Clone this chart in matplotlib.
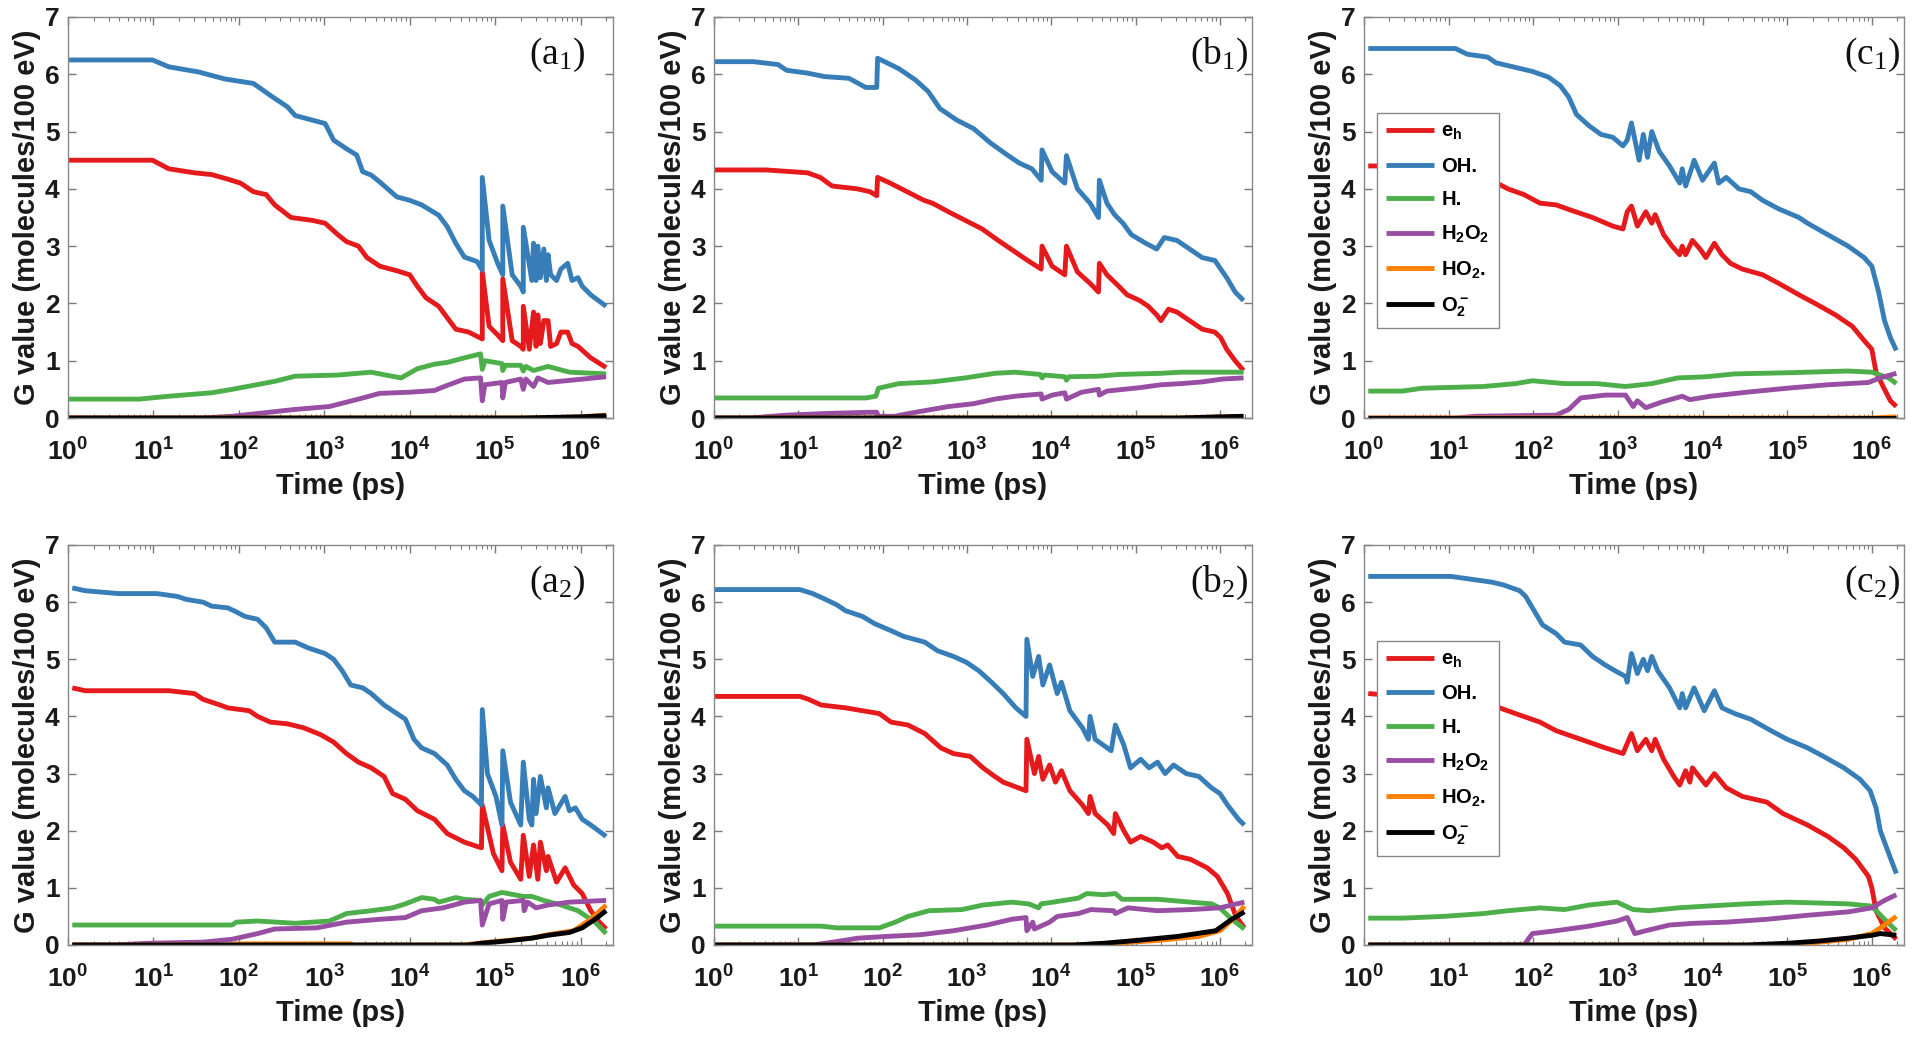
import numpy as np
import matplotlib
matplotlib.use('Agg')
import matplotlib.pyplot as plt
from matplotlib.ticker import LogLocator, NullFormatter

plt.rcParams['font.family'] = ['Liberation Sans', 'DejaVu Sans']
plt.rcParams['font.weight'] = 'bold'
plt.rcParams['axes.labelweight'] = 'bold'
plt.rcParams['mathtext.default'] = 'regular'

# points are (log10 of time in ps, G value in molecules/100 eV)
# ---- panel a1
a1_eh = [(0, 4.5), (0.99, 4.5), (1.18, 4.35), (1.48, 4.28), (1.68, 4.25), (1.87, 4.17), (2.02, 4.1), (2.17, 3.95),
         (2.32, 3.9), (2.42, 3.72), (2.61, 3.5), (2.86, 3.45), (3.01, 3.4), (3.16, 3.2), (3.26, 3.08), (3.40, 3.0),
         (3.50, 2.8), (3.65, 2.65), (3.85, 2.57), (4.0, 2.5), (4.09, 2.3), (4.19, 2.1), (4.34, 1.95), (4.44, 1.75),
         (4.54, 1.55), (4.69, 1.5), (4.85, 1.38), (4.85, 2.55), (4.93, 1.6), (5.03, 1.45), (5.09, 1.35), (5.09, 2.43),
         (5.20, 1.35), (5.30, 1.25), (5.33, 1.2), (5.33, 1.95), (5.40, 1.2), (5.45, 1.85), (5.48, 1.25), (5.50, 1.8),
         (5.53, 1.3), (5.57, 1.7), (5.62, 1.7), (5.65, 1.25), (5.72, 1.3), (5.77, 1.5), (5.85, 1.5), (5.90, 1.3),
         (5.97, 1.25), (6.12, 1.05), (6.30, 0.88)]
a1_oh = [(0, 6.25), (0.99, 6.25), (1.18, 6.13), (1.53, 6.04), (1.83, 5.92), (2.17, 5.84), (2.37, 5.63), (2.57, 5.43),
         (2.66, 5.28), (2.86, 5.2), (3.01, 5.14), (3.11, 4.85), (3.26, 4.70), (3.38, 4.59), (3.45, 4.30), (3.55, 4.24),
         (3.65, 4.12), (3.85, 3.86), (4.00, 3.80), (4.14, 3.72), (4.34, 3.54), (4.44, 3.34), (4.54, 3.05), (4.64, 2.81),
         (4.79, 2.73), (4.85, 2.58), (4.85, 4.2), (4.93, 3.1), (5.03, 2.7), (5.09, 2.5), (5.09, 3.7), (5.20, 2.5),
         (5.30, 2.3), (5.33, 2.2), (5.33, 3.33), (5.43, 2.4), (5.45, 3.05), (5.48, 2.4), (5.50, 3.0), (5.53, 2.45),
         (5.57, 2.95), (5.60, 2.4), (5.62, 2.85), (5.65, 2.5), (5.72, 2.4), (5.77, 2.6), (5.85, 2.7), (5.90, 2.4),
         (5.97, 2.45), (6.02, 2.3), (6.12, 2.15), (6.30, 1.95)]
a1_h = [(0, 0.33), (0.84, 0.33), (1.18, 0.38), (1.68, 0.44), (1.92, 0.5), (2.17, 0.57), (2.42, 0.64), (2.66, 0.73),
        (3.16, 0.75), (3.55, 0.8), (3.65, 0.77), (3.90, 0.7), (4.09, 0.86), (4.29, 0.94), (4.44, 0.97), (4.64, 1.05),
        (4.83, 1.12), (4.85, 0.85), (4.88, 1.0), (5.08, 0.95), (5.09, 0.83), (5.12, 0.92), (5.30, 0.92), (5.33, 0.82),
        (5.36, 0.9), (5.45, 0.83), (5.62, 0.9), (5.87, 0.8), (6.30, 0.77)]
a1_h2o2 = [(0, 0), (1.58, 0), (1.92, 0.03), (2.17, 0.07), (2.66, 0.15), (3.06, 0.2), (3.40, 0.33), (3.65, 0.43),
           (4.0, 0.45), (4.29, 0.48), (4.44, 0.57), (4.64, 0.68), (4.83, 0.7), (4.85, 0.3), (4.88, 0.58), (5.08, 0.62),
           (5.09, 0.35), (5.12, 0.62), (5.30, 0.68), (5.33, 0.5), (5.36, 0.68), (5.45, 0.55), (5.50, 0.7), (5.62, 0.62),
           (6.30, 0.72)]
a1_ho2 = [(0, 0), (5.5, 0), (6.0, 0.02), (6.30, 0.05)]
a1_o2 = [(0, 0), (5.3, 0), (6.0, 0.02), (6.30, 0.04)]

# ---- panel b1
b1_eh = [(0, 4.33), (0.62, 4.33), (1.11, 4.28), (1.26, 4.2), (1.40, 4.05), (1.70, 4.0), (1.85, 3.95), (1.93, 3.88),
         (1.94, 4.2), (2.09, 4.1), (2.29, 3.95), (2.49, 3.8), (2.59, 3.75), (2.78, 3.6), (2.98, 3.45), (3.18, 3.3),
         (3.37, 3.1), (3.57, 2.9), (3.72, 2.75), (3.88, 2.6), (3.89, 3.0), (4.01, 2.65), (4.16, 2.5), (4.18, 3.0),
         (4.31, 2.55), (4.46, 2.35), (4.56, 2.2), (4.57, 2.7), (4.66, 2.5), (4.80, 2.3), (4.90, 2.15), (5.05, 2.05),
         (5.15, 1.95), (5.25, 1.8), (5.30, 1.7), (5.39, 1.9), (5.49, 1.85), (5.64, 1.7), (5.79, 1.55), (5.94, 1.5),
         (6.01, 1.4), (6.08, 1.2), (6.18, 1.0), (6.28, 0.83)]
b1_oh = [(0, 6.22), (0.47, 6.22), (0.76, 6.17), (0.86, 6.07), (1.11, 6.02), (1.31, 5.96), (1.60, 5.93), (1.70, 5.85),
         (1.80, 5.77), (1.93, 5.77), (1.94, 6.28), (2.19, 6.1), (2.39, 5.9), (2.54, 5.7), (2.68, 5.4), (2.88, 5.2),
         (3.08, 5.05), (3.28, 4.8), (3.47, 4.6), (3.62, 4.45), (3.77, 4.35), (3.88, 4.15), (3.89, 4.68), (4.01, 4.3),
         (4.16, 4.1), (4.18, 4.58), (4.31, 4.0), (4.46, 3.75), (4.56, 3.5), (4.57, 4.15), (4.66, 3.75), (4.75, 3.55),
         (4.85, 3.4), (4.95, 3.2), (5.12, 3.05), (5.25, 2.95), (5.34, 3.15), (5.49, 3.1), (5.64, 2.95), (5.79, 2.8),
         (5.94, 2.75), (6.01, 2.6), (6.08, 2.45), (6.18, 2.2), (6.28, 2.05)]
b1_h = [(0, 0.35), (1.80, 0.35), (1.92, 0.38), (1.95, 0.52), (2.19, 0.6), (2.59, 0.63), (2.98, 0.7), (3.33, 0.78),
        (3.57, 0.8), (3.87, 0.76), (3.89, 0.7), (3.92, 0.75), (4.16, 0.72), (4.18, 0.66), (4.21, 0.72), (4.56, 0.73),
        (4.80, 0.76), (5.30, 0.78), (5.54, 0.8), (6.28, 0.8)]
b1_h2o2 = [(0, 0), (0.42, 0), (0.86, 0.05), (1.35, 0.08), (1.85, 0.1), (1.93, 0.1), (1.95, 0.03), (2.14, 0.03),
           (2.39, 0.1), (2.78, 0.2), (3.08, 0.25), (3.33, 0.33), (3.57, 0.38), (3.88, 0.42), (3.89, 0.33), (4.01, 0.4),
           (4.16, 0.44), (4.18, 0.33), (4.36, 0.45), (4.56, 0.5), (4.57, 0.4), (4.66, 0.47), (5.05, 0.53), (5.30, 0.58),
           (5.54, 0.6), (5.79, 0.63), (6.03, 0.68), (6.28, 0.7)]
b1_ho2 = [(0, 0), (5.5, 0), (6.28, 0.03)]
b1_o2 = [(0, 0), (5.5, 0), (6.28, 0.03)]

# ---- panel c1
c1_eh = [(0.05, 4.4), (0.5, 4.4), (1.0, 4.3), (1.51, 4.15), (1.70, 4.0), (1.89, 3.9), (2.08, 3.75), (2.27, 3.72),
         (2.46, 3.62), (2.70, 3.5), (2.94, 3.35), (3.06, 3.3), (3.11, 3.6), (3.16, 3.7), (3.23, 3.35), (3.33, 3.6),
         (3.40, 3.4), (3.44, 3.55), (3.54, 3.2), (3.64, 3.0), (3.73, 2.85), (3.76, 3.0), (3.80, 2.85), (3.88, 3.1),
         (3.97, 2.95), (4.04, 2.8), (4.14, 3.05), (4.23, 2.85), (4.33, 2.7), (4.47, 2.6), (4.71, 2.5), (4.90, 2.35),
         (5.14, 2.15), (5.33, 2.0), (5.57, 1.8), (5.77, 1.6), (5.91, 1.35), (6.00, 1.2), (6.05, 0.8), (6.15, 0.5),
         (6.22, 0.3), (6.29, 0.2)]
c1_oh = [(0.05, 6.45), (1.08, 6.45), (1.22, 6.35), (1.46, 6.3), (1.56, 6.2), (1.79, 6.12), (1.99, 6.05), (2.18, 5.95),
         (2.32, 5.8), (2.42, 5.6), (2.51, 5.3), (2.66, 5.1), (2.80, 4.95), (2.94, 4.9), (3.06, 4.75), (3.11, 4.85),
         (3.16, 5.15), (3.25, 4.5), (3.30, 4.95), (3.35, 4.55), (3.40, 5.0), (3.49, 4.65), (3.61, 4.4), (3.73, 4.1),
         (3.76, 4.35), (3.80, 4.05), (3.88, 4.4), (3.90, 4.5), (4.00, 4.15), (4.14, 4.45), (4.19, 4.1), (4.28, 4.2),
         (4.43, 4.0), (4.57, 3.95), (4.71, 3.8), (4.90, 3.65), (5.14, 3.5), (5.24, 3.4), (5.48, 3.2), (5.72, 3.0),
         (5.91, 2.8), (6.00, 2.65), (6.08, 2.2), (6.15, 1.7), (6.22, 1.4), (6.29, 1.18)]
c1_h = [(0.05, 0.47), (0.45, 0.47), (0.69, 0.52), (1.41, 0.55), (1.79, 0.6), (1.99, 0.65), (2.37, 0.6), (2.75, 0.6),
        (3.09, 0.55), (3.40, 0.6), (3.71, 0.7), (4.04, 0.72), (4.38, 0.77), (5.00, 0.79), (5.72, 0.82), (6.00, 0.8),
        (6.20, 0.7), (6.29, 0.6)]
c1_h2o2 = [(0.05, 0), (1.08, 0), (1.32, 0.03), (2.27, 0.05), (2.42, 0.15), (2.56, 0.35), (2.85, 0.4), (3.09, 0.4),
           (3.18, 0.2), (3.23, 0.3), (3.33, 0.18), (3.52, 0.28), (3.76, 0.38), (3.85, 0.32), (4.09, 0.38), (4.52, 0.45),
           (5.00, 0.52), (5.48, 0.58), (5.96, 0.62), (6.10, 0.7), (6.29, 0.78)]
c1_ho2 = [(0.05, 0), (6.0, 0), (6.29, 0.02)]
c1_o2 = [(0.05, 0), (6.29, 0)]

# ---- panel a2
a2_eh = [(0.05, 4.5), (0.20, 4.45), (1.18, 4.45), (1.48, 4.4), (1.58, 4.3), (1.78, 4.2), (1.87, 4.15), (2.12, 4.1),
         (2.22, 4.0), (2.37, 3.9), (2.57, 3.87), (2.76, 3.8), (2.96, 3.68), (3.11, 3.55), (3.26, 3.35), (3.40, 3.2),
         (3.55, 3.1), (3.70, 2.95), (3.80, 2.65), (3.95, 2.55), (4.09, 2.35), (4.29, 2.2), (4.44, 1.95), (4.64, 1.8),
         (4.84, 1.7), (4.85, 2.45), (4.98, 1.6), (5.08, 1.3), (5.09, 2.1), (5.18, 1.45), (5.30, 1.15), (5.33, 1.92),
         (5.40, 1.2), (5.45, 1.75), (5.50, 1.15), (5.53, 1.8), (5.60, 1.3), (5.62, 1.55), (5.72, 1.1), (5.82, 1.35),
         (5.92, 1.05), (6.02, 0.9), (6.12, 0.6), (6.22, 0.4), (6.30, 0.28)]
a2_oh = [(0.05, 6.25), (0.20, 6.2), (0.59, 6.15), (1.04, 6.15), (1.28, 6.1), (1.38, 6.05), (1.58, 6.0), (1.68, 5.93),
         (1.87, 5.9), (1.97, 5.83), (2.07, 5.75), (2.22, 5.7), (2.32, 5.55), (2.42, 5.3), (2.66, 5.3), (2.81, 5.2),
         (3.01, 5.1), (3.11, 5.0), (3.21, 4.8), (3.31, 4.55), (3.45, 4.5), (3.55, 4.4), (3.70, 4.2), (3.85, 4.05),
         (3.95, 3.95), (4.05, 3.6), (4.14, 3.45), (4.29, 3.35), (4.44, 3.15), (4.54, 2.9), (4.64, 2.7), (4.74, 2.6),
         (4.84, 2.45), (4.85, 4.12), (4.91, 3.0), (5.01, 2.6), (5.08, 2.1), (5.09, 3.4), (5.18, 2.5), (5.30, 2.1),
         (5.33, 3.2), (5.40, 2.2), (5.43, 2.1), (5.45, 2.9), (5.48, 2.3), (5.53, 2.95), (5.60, 2.4), (5.62, 2.75),
         (5.70, 2.3), (5.82, 2.6), (5.87, 2.35), (5.94, 2.4), (6.02, 2.2), (6.12, 2.1), (6.30, 1.9)]
a2_h = [(0.05, 0.35), (1.92, 0.35), (1.97, 0.4), (2.22, 0.42), (2.66, 0.38), (3.06, 0.42), (3.26, 0.55), (3.55, 0.6),
        (3.80, 0.65), (3.95, 0.72), (4.14, 0.83), (4.29, 0.8), (4.34, 0.75), (4.54, 0.83), (4.64, 0.8), (4.83, 0.78),
        (4.85, 0.7), (4.93, 0.85), (5.08, 0.92), (5.33, 0.85), (5.43, 0.85), (5.57, 0.78), (5.77, 0.7), (5.97, 0.6),
        (6.17, 0.4), (6.30, 0.2)]
a2_h2o2 = [(0.05, 0), (0.54, 0), (0.94, 0.03), (1.58, 0.05), (1.92, 0.1), (2.22, 0.2), (2.42, 0.28), (2.91, 0.3),
           (3.26, 0.4), (3.65, 0.45), (3.95, 0.48), (4.14, 0.6), (4.39, 0.65), (4.64, 0.75), (4.83, 0.78), (4.85, 0.35),
           (4.93, 0.72), (5.08, 0.78), (5.09, 0.45), (5.13, 0.75), (5.33, 0.78), (5.34, 0.6), (5.38, 0.75), (5.48, 0.65),
           (5.62, 0.7), (5.87, 0.75), (6.30, 0.78)]
a2_ho2 = [(0.05, 0), (1.90, 0), (1.97, 0.02), (3.31, 0.02), (3.35, 0), (4.64, 0), (4.93, 0.05), (5.43, 0.12),
          (5.62, 0.18), (5.92, 0.25), (6.12, 0.45), (6.30, 0.7)]
a2_o2 = [(0.05, 0), (4.69, 0), (4.83, 0.03), (5.13, 0.07), (5.43, 0.12), (5.62, 0.17), (5.87, 0.22), (6.02, 0.3),
         (6.17, 0.45), (6.30, 0.6)]

# ---- panel b2
b2_eh = [(0, 4.35), (1.02, 4.35), (1.12, 4.3), (1.27, 4.2), (1.56, 4.15), (1.76, 4.1), (1.96, 4.05), (2.10, 3.9),
         (2.30, 3.85), (2.50, 3.7), (2.69, 3.45), (2.84, 3.35), (3.04, 3.3), (3.19, 3.1), (3.33, 2.95), (3.43, 2.85),
         (3.70, 2.7), (3.71, 3.6), (3.80, 3.0), (3.85, 3.3), (3.90, 2.9), (3.98, 3.15), (4.05, 2.85), (4.12, 3.05),
         (4.22, 2.7), (4.37, 2.45), (4.44, 2.3), (4.46, 2.6), (4.52, 2.3), (4.67, 2.1), (4.74, 1.95), (4.76, 2.3),
         (4.86, 2.0), (4.94, 1.8), (5.06, 1.9), (5.21, 1.8), (5.31, 1.7), (5.38, 1.75), (5.50, 1.55), (5.65, 1.5),
         (5.85, 1.35), (5.97, 1.2), (6.09, 0.9), (6.19, 0.5), (6.29, 0.3)]
b2_oh = [(0, 6.22), (1.02, 6.22), (1.17, 6.15), (1.32, 6.05), (1.46, 5.95), (1.56, 5.85), (1.76, 5.75), (1.91, 5.62),
         (2.10, 5.5), (2.25, 5.4), (2.50, 5.3), (2.65, 5.15), (2.84, 5.05), (2.99, 4.95), (3.14, 4.8), (3.29, 4.6),
         (3.43, 4.4), (3.58, 4.15), (3.70, 4.0), (3.71, 5.35), (3.78, 4.7), (3.85, 5.05), (3.90, 4.55), (3.98, 4.9),
         (4.07, 4.4), (4.12, 4.6), (4.22, 4.1), (4.37, 3.8), (4.44, 3.6), (4.46, 4.0), (4.52, 3.6), (4.71, 3.4),
         (4.76, 3.85), (4.86, 3.5), (4.94, 3.1), (5.06, 3.25), (5.16, 3.1), (5.26, 3.2), (5.35, 3.0), (5.45, 3.15),
         (5.60, 3.0), (5.75, 2.95), (5.90, 2.75), (6.00, 2.65), (6.09, 2.45), (6.22, 2.2), (6.29, 2.1)]
b2_h = [(0, 0.33), (1.27, 0.33), (1.46, 0.3), (1.96, 0.3), (2.15, 0.4), (2.30, 0.5), (2.55, 0.6), (2.94, 0.62),
        (3.19, 0.7), (3.53, 0.75), (3.73, 0.72), (3.85, 0.65), (3.88, 0.72), (4.02, 0.75), (4.32, 0.82), (4.42, 0.9),
        (4.62, 0.88), (4.76, 0.9), (4.84, 0.8), (5.26, 0.8), (5.65, 0.75), (5.90, 0.72), (6.00, 0.65), (6.14, 0.45),
        (6.29, 0.28)]
b2_h2o2 = [(0, 0), (1.17, 0), (1.41, 0.05), (1.71, 0.12), (2.05, 0.15), (2.45, 0.18), (2.84, 0.25), (3.24, 0.35),
           (3.53, 0.45), (3.70, 0.48), (3.71, 0.25), (3.78, 0.4), (3.80, 0.28), (3.98, 0.4), (4.07, 0.5), (4.32, 0.55),
           (4.47, 0.62), (4.74, 0.6), (4.76, 0.55), (4.91, 0.65), (5.26, 0.6), (5.65, 0.62), (6.00, 0.65), (6.14, 0.7),
           (6.29, 0.75)]
b2_ho2 = [(0, 0), (4.27, 0), (4.76, 0.03), (5.26, 0.08), (5.75, 0.15), (6.00, 0.25), (6.19, 0.5), (6.29, 0.68)]
b2_o2 = [(0, 0), (4.27, 0), (4.62, 0.03), (5.01, 0.08), (5.50, 0.15), (5.95, 0.25), (6.14, 0.45), (6.29, 0.58)]

# ---- panel c2
c2_eh = [(0.05, 4.4), (0.5, 4.35), (1.0, 4.3), (1.51, 4.2), (1.79, 4.05), (2.08, 3.9), (2.27, 3.75), (2.56, 3.6),
         (2.85, 3.45), (3.06, 3.35), (3.16, 3.7), (3.23, 3.4), (3.33, 3.6), (3.40, 3.4), (3.44, 3.6), (3.54, 3.25),
         (3.66, 2.95), (3.73, 2.8), (3.80, 3.05), (3.85, 2.85), (3.88, 3.1), (4.04, 2.8), (4.14, 3.0), (4.28, 2.75),
         (4.47, 2.6), (4.76, 2.5), (4.95, 2.3), (5.24, 2.1), (5.48, 1.9), (5.67, 1.7), (5.81, 1.5), (5.96, 1.2),
         (6.00, 1.0), (6.05, 0.6), (6.15, 0.3), (6.29, 0.1)]
c2_oh = [(0.05, 6.45), (1.03, 6.45), (1.27, 6.4), (1.51, 6.35), (1.65, 6.3), (1.84, 6.2), (1.91, 6.1), (1.99, 5.9),
         (2.11, 5.6), (2.27, 5.45), (2.37, 5.3), (2.56, 5.25), (2.70, 5.05), (2.85, 4.9), (2.99, 4.78), (3.09, 4.7),
         (3.11, 4.6), (3.16, 5.1), (3.23, 4.75), (3.30, 5.0), (3.35, 4.8), (3.40, 5.05), (3.47, 4.8), (3.61, 4.5),
         (3.73, 4.15), (3.76, 4.4), (3.80, 4.15), (3.90, 4.5), (4.02, 4.1), (4.14, 4.45), (4.23, 4.15), (4.38, 4.05),
         (4.57, 3.95), (4.81, 3.75), (5.00, 3.6), (5.24, 3.45), (5.43, 3.3), (5.67, 3.1), (5.86, 2.9), (5.98, 2.7),
         (6.05, 2.4), (6.10, 2.0), (6.20, 1.6), (6.29, 1.25)]
c2_h = [(0.05, 0.47), (0.45, 0.47), (0.93, 0.5), (1.41, 0.55), (1.70, 0.6), (2.08, 0.65), (2.37, 0.62), (2.66, 0.7),
        (2.99, 0.75), (3.18, 0.62), (3.37, 0.6), (3.71, 0.65), (4.04, 0.68), (4.52, 0.72), (5.00, 0.75), (5.72, 0.72),
        (6.00, 0.68), (6.15, 0.45), (6.29, 0.25)]
c2_h2o2 = [(0.05, 0), (1.89, 0), (1.99, 0.2), (2.27, 0.25), (2.66, 0.33), (2.99, 0.42), (3.11, 0.48), (3.20, 0.2),
           (3.33, 0.25), (3.61, 0.35), (3.90, 0.38), (4.28, 0.4), (4.76, 0.45), (5.24, 0.52), (5.72, 0.58),
           (6.00, 0.65), (6.15, 0.78), (6.29, 0.88)]
c2_ho2 = [(0.05, 0), (4.76, 0), (5.24, 0.03), (5.72, 0.1), (6.00, 0.2), (6.15, 0.35), (6.29, 0.5)]
c2_o2 = [(0.05, 0), (4.52, 0), (5.00, 0.03), (5.38, 0.07), (5.72, 0.12), (6.00, 0.17), (6.10, 0.2), (6.29, 0.17)]

species = ['e$_h$', 'OH.', 'H.', 'H$_2$O$_2$', 'HO$_2$.', 'O$_2^-$']
colors = ['#e41a1c', '#377eb8', '#4daf4a', '#984ea3', '#ff7f00', '#000000']
tick_exp = [0, 1, 2, 3, 4, 5, 6]

panels = [
    ('(a$_1$)', [a1_eh, a1_oh, a1_h, a1_h2o2, a1_ho2, a1_o2]),
    ('(b$_1$)', [b1_eh, b1_oh, b1_h, b1_h2o2, b1_ho2, b1_o2]),
    ('(c$_1$)', [c1_eh, c1_oh, c1_h, c1_h2o2, c1_ho2, c1_o2]),
    ('(a$_2$)', [a2_eh, a2_oh, a2_h, a2_h2o2, a2_ho2, a2_o2]),
    ('(b$_2$)', [b2_eh, b2_oh, b2_h, b2_h2o2, b2_ho2, b2_o2]),
    ('(c$_2$)', [c2_eh, c2_oh, c2_h, c2_h2o2, c2_ho2, c2_o2]),
]

W, H = 1920, 1044
col_x = [68, 714, 1364]
col_w = [545, 538, 540]
row_y = [17, 545]
row_h = [401, 400]
tag_x = [0.949, 0.993, 0.993]

fig = plt.figure(figsize=(19.2, 10.44), dpi=100)

for i, (tag, series) in enumerate(panels):
    r, c = divmod(i, 3)
    ax = fig.add_axes([col_x[c] / W, 1 - (row_y[r] + row_h[r]) / H, col_w[c] / W, row_h[r] / H])
    for pts, col, lab in zip(series, colors, species):
        lt, g = zip(*pts)
        ax.plot(10 ** np.array(lt), g, color=col, lw=3.5, label=lab, solid_capstyle='butt')

    ax.set_xscale('log')
    ax.set_xlim(1, 2.4e6)
    ax.set_ylim(0, 7)
    ax.set_xticks([10.0 ** k for k in tick_exp])
    ax.set_xticklabels(['$10^{%d}$' % k for k in tick_exp])
    ax.xaxis.set_minor_locator(LogLocator(base=10, subs=np.arange(2, 10), numticks=20))
    ax.xaxis.set_minor_formatter(NullFormatter())
    ax.set_yticks(range(8))
    ax.tick_params(which='both', direction='in', top=True, right=True, color='#777777',
                   labelcolor='#1a1a1a', labelsize=19)
    ax.tick_params(which='major', length=6, width=1)
    ax.tick_params(which='minor', length=3, width=0.8)
    ax.tick_params(axis='x', pad=15)
    ax.tick_params(axis='y', pad=6)
    for sp in ax.spines.values():
        sp.set_color('#888888')
        sp.set_linewidth(1)

    ax.set_xlabel('Time (ps)', fontsize=21, color='#1a1a1a', labelpad=4)
    ax.set_ylabel('G value (molecules/100 eV)', fontsize=21, color='#1a1a1a', labelpad=3)
    ax.text(tag_x[c], 0.905, tag, transform=ax.transAxes, ha='right', va='center',
            fontsize=27, family='Liberation Serif', fontweight='normal', color='#111111')

    if c == 2:
        leg = ax.legend(loc='upper left', bbox_to_anchor=(0.024, 0.761), borderaxespad=0,
                        fontsize=14.5, handlelength=2.4, handletextpad=0.35, labelspacing=0.72,
                        fancybox=False, framealpha=1, edgecolor='#888888', borderpad=0.45)
        leg.get_frame().set_linewidth(1)

fig.savefig('out.png', dpi=100)
